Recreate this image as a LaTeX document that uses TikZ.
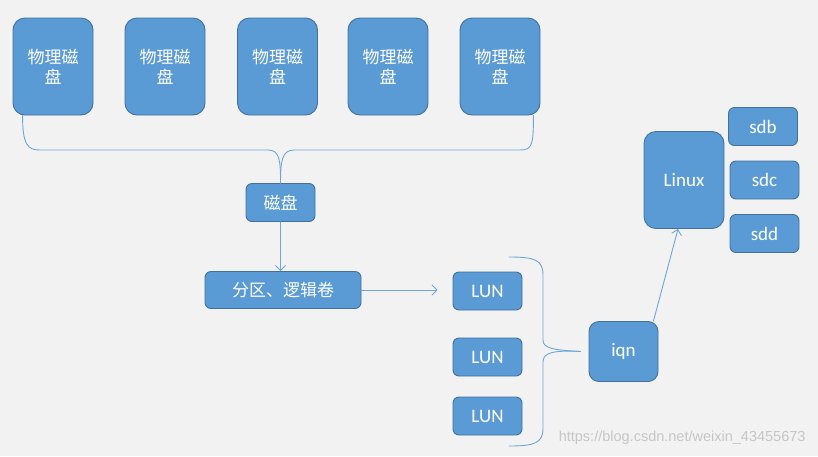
\documentclass[tikz,border=0pt]{standalone}
\usepackage{fontspec}
\setmainfont{Carlito}
\newfontfamily\cjk{Noto Sans CJK SC}
\newfontfamily\wmfont{Liberation Sans}
\usepackage{tikz}
\usetikzlibrary{arrows.meta}

\definecolor{boxfill}{HTML}{5B9BD5}
\definecolor{boxline}{HTML}{41719C}
\definecolor{linkcol}{HTML}{6FA6DA}
\definecolor{paper}{HTML}{F2F2F2}

\begin{document}
\begin{tikzpicture}[line cap=round, line join=round, x=1pt, y=-1pt,
    blk/.style={draw=boxline, line width=0.9pt, fill=boxfill, text=white,
        inner sep=0pt, align=center, font=\fontsize{19}{22}\selectfont},
    disk/.style={blk, minimum width=80pt, minimum height=97pt, rounded corners=12pt,
        font=\cjk\fontsize{17}{20}\selectfont},
    small/.style={blk, minimum width=69pt, minimum height=38pt, rounded corners=6pt},
    link/.style={draw=linkcol, line width=0.9pt},
    arrow/.style={link, -{Straight Barb[length=5pt, width=10pt]}}]
                \useasboundingbox[fill=paper] (0, 0) rectangle (818, 456);

                % physical disks
                \node[disk] (d1) at (53, 66.5) {物理磁\\盘};
                \node[disk] (d2) at (165, 66.5) {物理磁\\盘};
                \node[disk] (d3) at (277.5, 66.5) {物理磁\\盘};
                \node[disk] (d4) at (388, 66.5) {物理磁\\盘};
                \node[disk] (d5) at (500, 66.5) {物理磁\\盘};

                % middle column
                \node[small, font=\cjk\fontsize{17}{20}\selectfont] (disk) at (280.5, 202.5) {磁盘};
                \node[small, minimum width=156pt, minimum height=37pt,
                    font=\cjk\fontsize{17}{20}\selectfont] (part) at (283, 290) {分区、逻辑卷};

                % LUNs
                \node[small] (lun1) at (487.5, 291) {LUN};
                \node[small] (lun2) at (487.5, 357) {LUN};
                \node[small] (lun3) at (487.5, 416) {LUN};

                \node[small, minimum height=60pt, rounded corners=10pt] (iqn) at (623.5, 351.5) {iqn};

                % host
                \node[disk, font=\fontsize{19}{22}\selectfont] (linux) at (684, 180) {Linux};
                \node[small] (sdb) at (763, 126.5) {sdb};
                \node[small] (sdc) at (764.5, 180) {sdc};
                \node[small] (sdd) at (764.5, 233.5) {sdd};

                % brace under the disks
                \draw[link] ([xshift=10pt]d1.south west) .. controls +(0, 30) and +(-12, 0) .. (40, 150)
                    -- (268, 150) .. controls +(12, 0) and +(0, -22) .. (disk.north);
                \draw[link] ([xshift=-7pt]d5.south east) .. controls +(0, 30) and +(12, 0) .. (520, 150)
                    -- (294, 150) .. controls +(-12, 0) and +(0, -22) .. (disk.north);

                % brace round the LUNs
                \coordinate (tip) at ([xshift=-8pt]iqn.west);
                \draw[link] (509, 257) .. controls (535, 257) and (543, 260) .. (543, 275)
                    -- (543, 340) .. controls (543, 348) and (552, 350) .. (tip);
                \draw[link] (509, 446) .. controls (535, 446) and (543, 443) .. (543, 428)
                    -- (543, 362) .. controls (543, 353) and (552, 350) .. (tip);

                \draw[arrow] (disk.south) -- (disk.south |- part.north);
                \draw[arrow, shorten >=15pt] (part.east) -- (part.east -| lun1.west);
                \draw[arrow] ([xshift=-5pt]iqn.north east) -- ([xshift=-6pt]linux.south);

                \node[text=gray!45, font=\wmfont\fontsize{14.5}{16}\selectfont, anchor=east] (mark) at (809, 438) {https://blog.csdn.net/weixin\_43455673};
            \end{tikzpicture}
\end{document}
